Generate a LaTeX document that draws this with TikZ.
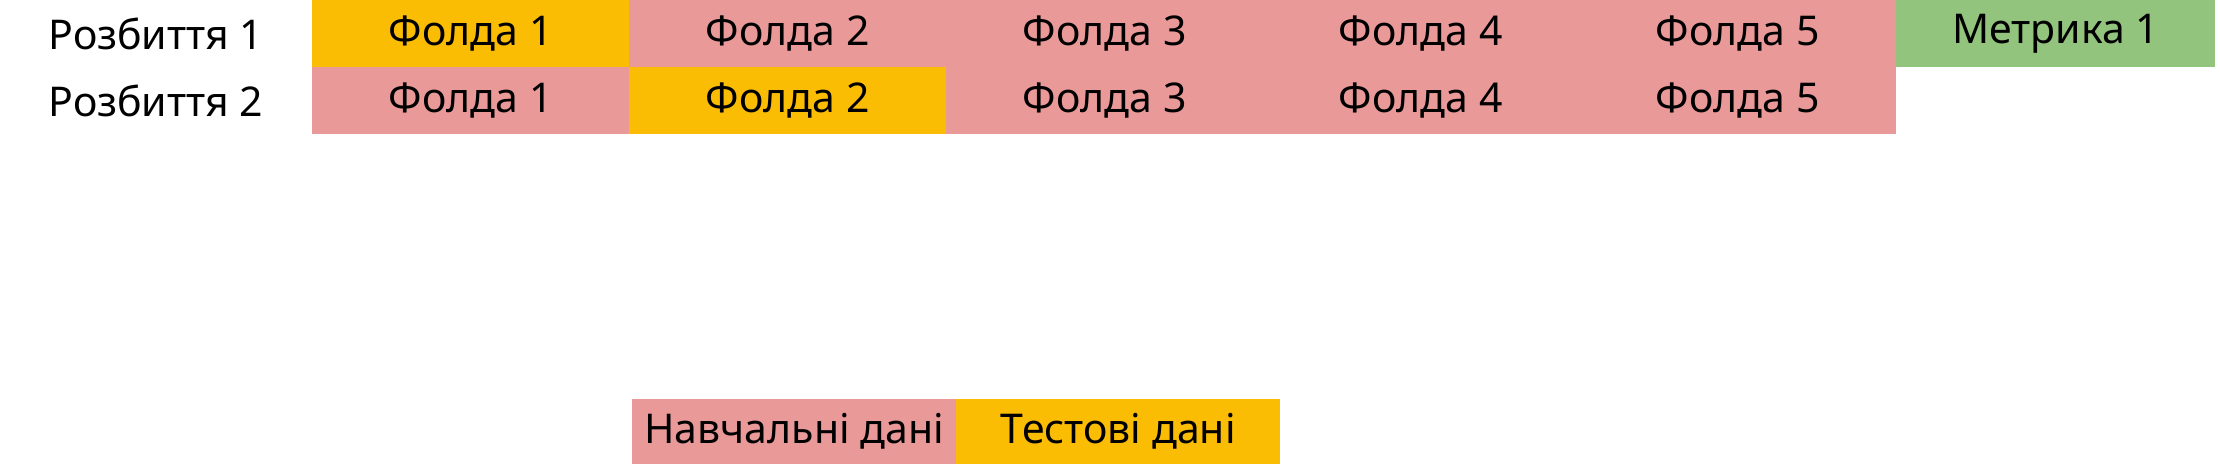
\documentclass[tikz,border=0pt]{standalone}
\usepackage{fontspec}
\setmainfont{Noto Sans}
\definecolor{cyel}{HTML}{FBBC04}
\definecolor{cpink}{HTML}{EA9999}
\definecolor{cgreen}{HTML}{93C47D}
\begin{document}
\begin{tikzpicture}[x=1pt,y=-1pt,
  txt/.style={font=\fontsize{41}{43}\selectfont, text=black},
  cell/.style={txt, anchor=north west, inner sep=0pt, minimum height=67pt, minimum width=317pt},
  ycell/.style={cell, fill=cyel},
  pcell/.style={cell, fill=cpink},
  gcell/.style={cell, fill=cgreen, minimum width=319pt},
  lcell/.style={txt, anchor=north west, inner sep=0pt, minimum height=65pt, minimum width=324pt},
  rowlab/.style={txt, anchor=center}]
\useasboundingbox (0,0) rectangle (2220,464);
\fill[white] (0,0) rectangle (2220,464);
% row 1
\node[rowlab] (r1) at (156,34) {Розбиття 1};
\node[ycell] (a1) at (312,0) {Фолда 1};
\node[pcell] (a2) at (629,0) {Фолда 2};
\node[pcell] (a3) at (946,0) {Фолда 3};
\node[pcell] (a4) at (1262,0) {Фолда 4};
\node[pcell] (a5) at (1579,0) {Фолда 5};
\node[gcell] (m1) at (1896,0) {Метрика 1};
% row 2
\node[rowlab] (r2) at (156,101) {Розбиття 2};
\node[pcell] (b1) at (312,67) {Фолда 1};
\node[ycell] (b2) at (629,67) {Фолда 2};
\node[pcell] (b3) at (946,67) {Фолда 3};
\node[pcell] (b4) at (1262,67) {Фолда 4};
\node[pcell] (b5) at (1579,67) {Фолда 5};
% legend
\node[lcell, fill=cpink] (l1) at (632,399) {Навчальні дані};
\node[lcell, fill=cyel] (l2) at (956,399) {Тестові дані};
\end{tikzpicture}
\end{document}
